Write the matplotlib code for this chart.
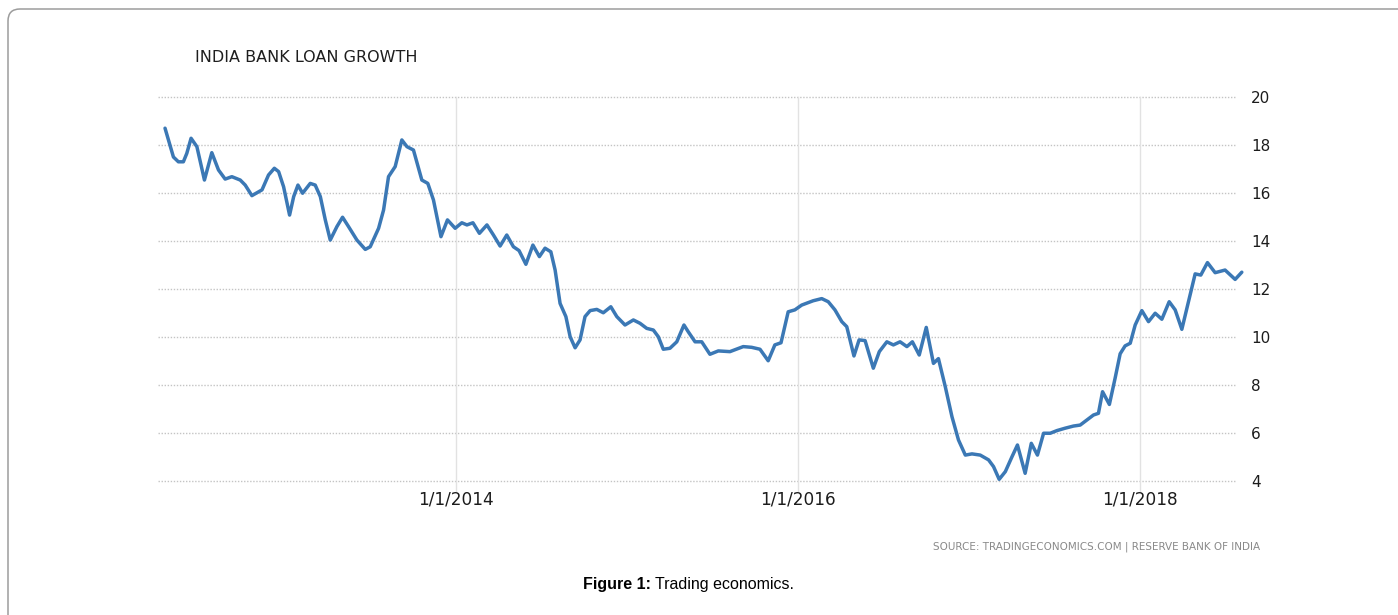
import numpy as np
import pandas as pd
import matplotlib
matplotlib.use("Agg")
import matplotlib.pyplot as plt
from matplotlib.patches import FancyBboxPatch

years = [
    2012.298, 2012.347, 2012.376, 2012.405, 2012.425, 2012.450, 2012.484, 2012.528,
    2012.571, 2012.610, 2012.649, 2012.688, 2012.737, 2012.766, 2012.805, 2012.864,
    2012.902, 2012.936, 2012.961, 2012.990, 2013.025, 2013.049, 2013.074, 2013.101,
    2013.146, 2013.175, 2013.205, 2013.234, 2013.263, 2013.302, 2013.335, 2013.370,
    2013.419, 2013.468, 2013.497, 2013.546, 2013.575, 2013.604, 2013.643, 2013.682,
    2013.712, 2013.750, 2013.799, 2013.834, 2013.867, 2013.911, 2013.949, 2013.994,
    2014.033, 2014.063, 2014.098, 2014.136, 2014.180, 2014.218, 2014.257, 2014.296,
    2014.335, 2014.368, 2014.408, 2014.449, 2014.487, 2014.520, 2014.554, 2014.579,
    2014.608, 2014.642, 2014.667, 2014.696, 2014.725, 2014.754, 2014.784, 2014.823,
    2014.861, 2014.905, 2014.940, 2014.988, 2015.037, 2015.076, 2015.115, 2015.154,
    2015.183, 2015.212, 2015.251, 2015.291, 2015.333, 2015.358, 2015.398, 2015.437,
    2015.485, 2015.534, 2015.602, 2015.680, 2015.729, 2015.778, 2015.826, 2015.865,
    2015.901, 2015.943, 2015.982, 2016.022, 2016.089, 2016.139, 2016.177, 2016.216,
    2016.256, 2016.285, 2016.327, 2016.357, 2016.392, 2016.440, 2016.475, 2016.519,
    2016.557, 2016.596, 2016.636, 2016.668, 2016.708, 2016.749, 2016.791, 2016.820,
    2016.860, 2016.899, 2016.937, 2016.977, 2017.016, 2017.064, 2017.113, 2017.142,
    2017.175, 2017.211, 2017.250, 2017.282, 2017.327, 2017.363, 2017.399, 2017.435,
    2017.474, 2017.513, 2017.561, 2017.610, 2017.649, 2017.688, 2017.727, 2017.756,
    2017.780, 2017.820, 2017.854, 2017.883, 2017.912, 2017.942, 2017.971, 2018.010,
    2018.049, 2018.088, 2018.127, 2018.170, 2018.205, 2018.244, 2018.283, 2018.322,
    2018.355, 2018.394, 2018.439, 2018.497, 2018.556, 2018.595,
]

# loan growth, percent
growth = [
    18.70, 17.50, 17.30, 17.30, 17.65, 18.28, 17.93, 16.54,
    17.68, 16.96, 16.58, 16.68, 16.54, 16.33, 15.89, 16.13,
    16.75, 17.03, 16.89, 16.26, 15.08, 15.85, 16.33, 15.99,
    16.40, 16.33, 15.85, 14.88, 14.04, 14.60, 14.99, 14.60,
    14.04, 13.65, 13.76, 14.53, 15.29, 16.68, 17.10, 18.21,
    17.93, 17.79, 16.54, 16.40, 15.71, 14.18, 14.88, 14.53,
    14.76, 14.67, 14.76, 14.32, 14.67, 14.25, 13.79, 14.25,
    13.76, 13.60, 13.03, 13.83, 13.35, 13.70, 13.55, 12.79,
    11.40, 10.85, 10.01, 9.55, 9.88, 10.85, 11.10, 11.15,
    11.01, 11.26, 10.85, 10.50, 10.71, 10.57, 10.36, 10.29,
    10.01, 9.49, 9.53, 9.80, 10.50, 10.22, 9.80, 9.80,
    9.28, 9.42, 9.39, 9.60, 9.57, 9.49, 9.01, 9.67,
    9.76, 11.05, 11.13, 11.33, 11.51, 11.60, 11.47, 11.13,
    10.64, 10.43, 9.21, 9.88, 9.85, 8.70, 9.39, 9.80,
    9.67, 9.80, 9.60, 9.80, 9.25, 10.40, 8.90, 9.10,
    7.93, 6.68, 5.71, 5.08, 5.13, 5.08, 4.88, 4.60,
    4.07, 4.39, 5.01, 5.50, 4.32, 5.57, 5.08, 5.99,
    5.99, 6.10, 6.20, 6.29, 6.33, 6.54, 6.75, 6.82,
    7.72, 7.19, 8.30, 9.30, 9.63, 9.74, 10.50, 11.10,
    10.64, 10.99, 10.74, 11.47, 11.13, 10.32, 11.47, 12.63,
    12.58, 13.10, 12.68, 12.79, 12.40, 12.70,
]

tick_dates = ["2014-01-01", "2016-01-01", "2018-01-01"]
tick_labels = ["1/1/2014", "1/1/2016", "1/1/2018"]
y_ticks = [4, 6, 8, 10, 12, 14, 16, 18, 20]


def to_date(t):
    y = int(np.floor(t))
    a = pd.Timestamp(y, 1, 1)
    b = pd.Timestamp(y + 1, 1, 1)
    return a + (t - y) * (b - a)


dates = [to_date(t) for t in years]

W, H = 1398, 615
fig = plt.figure(figsize=(W / 100, H / 100), dpi=100)
fig.patch.set_facecolor("white")

# outer rounded frame (runs off the right and bottom)
frame = FancyBboxPatch((0.08, -1.0), 16.0, 7.06,
                       boxstyle="round,pad=0,rounding_size=0.12",
                       transform=fig.dpi_scale_trans, fill=False,
                       edgecolor="#9c9c9c", linewidth=1.1)
fig.patches.append(frame)

ax = fig.add_axes([158 / W, (H - 481) / H, 1078 / W, 384 / H])
ax.set_xlim(to_date(2012.257), to_date(2018.561))
ax.set_ylim(4, 20)

for v in y_ticks:
    ax.axhline(v, color="#c4c4c4", lw=1.0, ls=(0, (1, 1.2)), zorder=1,
               clip_on=False)
for d in tick_dates:
    ax.plot([pd.Timestamp(d)] * 2, [20, 3.6], color="#e2e2e2", lw=1.0,
            zorder=1, clip_on=False)

ax.plot(dates, growth, color="#3b78b5", lw=2.5, solid_joinstyle="round",
        solid_capstyle="round", zorder=3, clip_on=False)

for s in ax.spines.values():
    s.set_visible(False)
ax.yaxis.tick_right()
ax.set_yticks(y_ticks)
ax.set_yticklabels([str(v) for v in y_ticks])
ax.set_xticks([pd.Timestamp(d) for d in tick_dates])
ax.set_xticklabels(tick_labels)
ax.tick_params(axis="y", length=0, pad=11, labelsize=11, labelcolor="#1c1c1c")
ax.tick_params(axis="x", length=0, pad=7, labelsize=12.2, labelcolor="#1c1c1c")

fig.text(195 / W, 1 - 58 / H, "INDIA BANK LOAN GROWTH", fontsize=11.5,
         color="#1e1e1e", va="center", ha="left")
fig.text(1260 / W, 1 - 547 / H,
         "SOURCE: TRADINGECONOMICS.COM | RESERVE BANK OF INDIA",
         fontsize=7.5, color="#8a8a8a", va="center", ha="right")
fig.text(651 / W, 1 - 585 / H, "Figure 1:", fontsize=11.5, fontweight="bold",
         va="center", ha="right", family=["Liberation Sans", "DejaVu Sans"])
fig.text(655 / W, 1 - 585 / H, "Trading economics.", fontsize=11.5,
         va="center", ha="left", family=["Liberation Sans", "DejaVu Sans"])

fig.savefig("out.png", dpi=100, facecolor="white")
